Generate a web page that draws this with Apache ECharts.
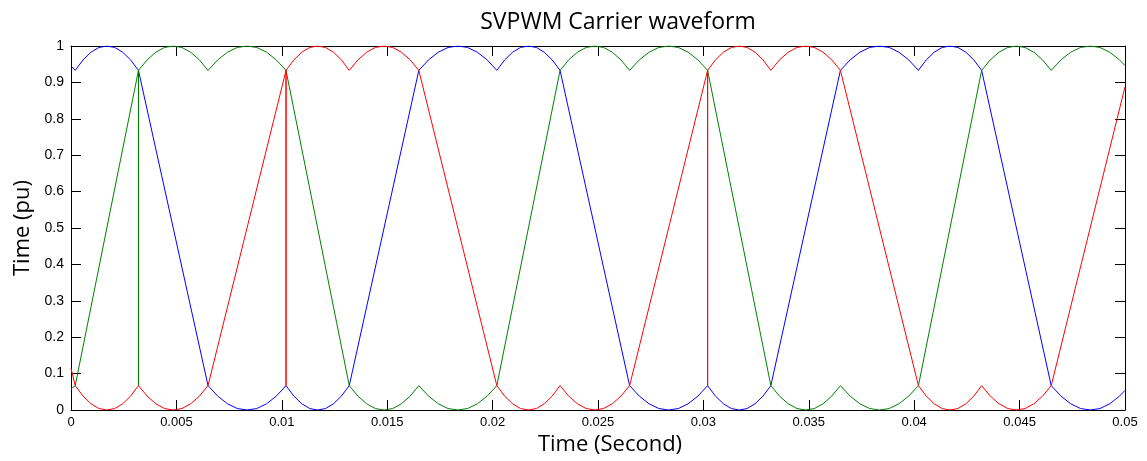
<!DOCTYPE html>
<html>
<head>
<meta charset="utf-8">
<script src="https://cdn.jsdelivr.net/npm/echarts@6/dist/echarts.min.js"></script>
<style>html,body{margin:0;padding:0;background:#fff}#c{width:1147px;height:461px}</style>
</head>
<body>
<div id="c"></div>
<script>
const titleText = 'SVPWM Carrier waveform';
const xName = 'Time (Second)';
const yName = 'Time (pu)';
const xTicks = [0, 0.005, 0.01, 0.015, 0.02, 0.025, 0.03, 0.035, 0.04, 0.045, 0.05];
const yTicks = [0, 0.1, 0.2, 0.3, 0.4, 0.5, 0.6, 0.7, 0.8, 0.9, 1];

const blue = [
[0,0.945],[0.0002,0.933],
[0.000575,0.962],[0.00095,0.983],[0.001325,0.996],[0.0017,1],[0.002075,0.996],[0.00245,0.983],[0.002825,0.962],[0.0032,0.933],
[0.0065,0.067],
[0.0069625,0.038],[0.007425,0.017],[0.0078875,0.004],[0.00835,0],[0.0088125,0.004],[0.009275,0.017],[0.0097375,0.038],[0.0102,0.067],
[0.010575,0.038],[0.01095,0.017],[0.011325,0.004],[0.0117,0],[0.012075,0.004],[0.01245,0.017],[0.012825,0.038],[0.0132,0.067],
[0.0165,0.933],
[0.0169625,0.962],[0.017425,0.983],[0.0178875,0.996],[0.01835,1],[0.0188125,0.996],[0.019275,0.983],[0.0197375,0.962],[0.0202,0.933],
[0.020575,0.962],[0.02095,0.983],[0.021325,0.996],[0.0217,1],[0.022075,0.996],[0.02245,0.983],[0.022825,0.962],[0.0232,0.933],
[0.0265,0.067],
[0.0269625,0.038],[0.027425,0.017],[0.0278875,0.004],[0.02835,0],[0.0288125,0.004],[0.029275,0.017],[0.0297375,0.038],[0.0302,0.067],
[0.030575,0.038],[0.03095,0.017],[0.031325,0.004],[0.0317,0],[0.032075,0.004],[0.03245,0.017],[0.032825,0.038],[0.0332,0.067],
[0.0365,0.933],
[0.0369625,0.962],[0.037425,0.983],[0.0378875,0.996],[0.03835,1],[0.0388125,0.996],[0.039275,0.983],[0.0397375,0.962],[0.0402,0.933],
[0.040575,0.962],[0.04095,0.983],[0.041325,0.996],[0.0417,1],[0.042075,0.996],[0.04245,0.983],[0.042825,0.962],[0.0432,0.933],
[0.0465,0.067],
[0.0469625,0.038],[0.047425,0.017],[0.0478875,0.004],[0.04835,0],[0.0488125,0.004],[0.049275,0.017],[0.0497375,0.038],[0.05,0.054]
];

const red = [
[0,0.115],[0.0002,0.067],
[0.000575,0.038],[0.00095,0.017],[0.001325,0.004],[0.0017,0],[0.002075,0.004],[0.00245,0.017],[0.002825,0.038],[0.0032,0.067],
[0.0036125,0.038],[0.004025,0.017],[0.0044375,0.004],[0.00485,0],[0.0052625,0.004],[0.005675,0.017],[0.0060875,0.038],[0.0065,0.067],
[0.0102,0.933],[0.0102,0.067],[0.0102,0.933],
[0.010575,0.962],[0.01095,0.983],[0.011325,0.996],[0.0117,1],[0.012075,0.996],[0.01245,0.983],[0.012825,0.962],[0.0132,0.933],
[0.0136125,0.962],[0.014025,0.983],[0.0144375,0.996],[0.01485,1],[0.0152625,0.996],[0.015675,0.983],[0.0160875,0.962],[0.0165,0.933],
[0.0202,0.067],
[0.020575,0.038],[0.02095,0.017],[0.021325,0.004],[0.0217,0],[0.022075,0.004],[0.02245,0.017],[0.022825,0.038],[0.0232,0.067],
[0.0236125,0.038],[0.024025,0.017],[0.0244375,0.004],[0.02485,0],[0.0252625,0.004],[0.025675,0.017],[0.0260875,0.038],[0.0265,0.067],
[0.0302,0.933],[0.0302,0.067],[0.0302,0.933],
[0.030575,0.962],[0.03095,0.983],[0.031325,0.996],[0.0317,1],[0.032075,0.996],[0.03245,0.983],[0.032825,0.962],[0.0332,0.933],
[0.0336125,0.962],[0.034025,0.983],[0.0344375,0.996],[0.03485,1],[0.0352625,0.996],[0.035675,0.983],[0.0360875,0.962],[0.0365,0.933],
[0.0402,0.067],
[0.040575,0.038],[0.04095,0.017],[0.041325,0.004],[0.0417,0],[0.042075,0.004],[0.04245,0.017],[0.042825,0.038],[0.0432,0.067],
[0.0436125,0.038],[0.044025,0.017],[0.0444375,0.004],[0.04485,0],[0.0452625,0.004],[0.045675,0.017],[0.0460875,0.038],[0.0465,0.067],
[0.05,0.888]
];

const green = [
[0,0.058],[0.0002,0.067],
[0.0032,0.933],[0.0032,0.067],[0.0032,0.933],
[0.0036125,0.962],[0.004025,0.983],[0.0044375,0.996],[0.00485,1],[0.0052625,0.996],[0.005675,0.983],[0.0060875,0.962],[0.0065,0.933],
[0.0069625,0.962],[0.007425,0.983],[0.0078875,0.996],[0.00835,1],[0.0088125,0.996],[0.009275,0.983],[0.0097375,0.962],[0.0102,0.933],
[0.0132,0.067],
[0.0136125,0.038],[0.014025,0.017],[0.0144375,0.004],[0.01485,0],[0.0152625,0.004],[0.015675,0.017],[0.0160875,0.038],[0.0165,0.067],
[0.0169625,0.038],[0.017425,0.017],[0.0178875,0.004],[0.01835,0],[0.0188125,0.004],[0.019275,0.017],[0.0197375,0.038],[0.0202,0.067],
[0.0232,0.933],
[0.0236125,0.962],[0.024025,0.983],[0.0244375,0.996],[0.02485,1],[0.0252625,0.996],[0.025675,0.983],[0.0260875,0.962],[0.0265,0.933],
[0.0269625,0.962],[0.027425,0.983],[0.0278875,0.996],[0.02835,1],[0.0288125,0.996],[0.029275,0.983],[0.0297375,0.962],[0.0302,0.933],
[0.0332,0.067],
[0.0336125,0.038],[0.034025,0.017],[0.0344375,0.004],[0.03485,0],[0.0352625,0.004],[0.035675,0.017],[0.0360875,0.038],[0.0365,0.067],
[0.0369625,0.038],[0.037425,0.017],[0.0378875,0.004],[0.03835,0],[0.0388125,0.004],[0.039275,0.017],[0.0397375,0.038],[0.0402,0.067],
[0.0432,0.933],
[0.0436125,0.962],[0.044025,0.983],[0.0444375,0.996],[0.04485,1],[0.0452625,0.996],[0.045675,0.983],[0.0460875,0.962],[0.0465,0.933],
[0.0469625,0.962],[0.047425,0.983],[0.0478875,0.996],[0.04835,1],[0.0488125,0.996],[0.049275,0.983],[0.0497375,0.962],[0.05,0.946]
];

const chart = echarts.init(document.getElementById('c'), null, {renderer: 'canvas'});
const axisLineStyle = {color: '#000', width: 1};
const fmtX = v => { const s = xTicks.find(t => Math.abs(t - v) < 1e-9); return s === undefined ? '' : String(s); };
const fmtY = v => { const s = yTicks.find(t => Math.abs(t - v) < 1e-9); return s === undefined ? '' : String(s); };
const mkLine = (name, data, color) => ({
  name, type: 'line', data, showSymbol: false, symbol: 'none', animation: false,
  lineStyle: {color, width: 1}, itemStyle: {color}, clip: true
});
chart.setOption({
  animation: false,
  backgroundColor: '#fff',
  title: {
    text: titleText, left: 613, top: 6, textAlign: 'center',
    textStyle: {fontFamily: 'Open Sans', fontWeight: 'normal', fontSize: 23, color: '#000'}
  },
  grid: {left: 71, right: 22, top: 46, bottom: 51, containLabel: false},
  xAxis: [{
    type: 'value', min: 0, max: 0.05, interval: 0.005, position: 'bottom',
    name: xName, nameLocation: 'middle', nameGap: 24,
    nameTextStyle: {fontFamily: 'Open Sans', fontSize: 22, color: '#000', padding: [0, 0, 0, 24]},
    axisLine: {show: true, onZero: false, lineStyle: axisLineStyle},
    axisTick: {show: true, inside: true, length: 10, lineStyle: axisLineStyle},
    axisLabel: {formatter: fmtX, color: '#000', fontFamily: 'Liberation Sans', fontSize: 13, margin: 6},
    splitLine: {show: false}
  }, {
    type: 'value', min: 0, max: 0.05, interval: 0.005, position: 'top',
    axisLine: {show: true, onZero: false, lineStyle: axisLineStyle},
    axisTick: {show: true, inside: true, length: 10, lineStyle: axisLineStyle},
    axisLabel: {show: false}, splitLine: {show: false}
  }],
  yAxis: [{
    type: 'value', min: 0, max: 1, interval: 0.1, position: 'left',
    name: yName, nameLocation: 'middle', nameGap: 34, nameRotate: 90,
    nameTextStyle: {fontFamily: 'Open Sans', fontSize: 22, color: '#000'},
    axisLine: {show: true, onZero: false, lineStyle: axisLineStyle},
    axisTick: {show: true, inside: true, length: 10, lineStyle: axisLineStyle},
    axisLabel: {formatter: fmtY, color: '#000', fontFamily: 'Liberation Sans', fontSize: 14, margin: 7},
    splitLine: {show: false}
  }, {
    type: 'value', min: 0, max: 1, interval: 0.1, position: 'right',
    axisLine: {show: true, onZero: false, lineStyle: axisLineStyle},
    axisTick: {show: true, inside: true, length: 10, lineStyle: axisLineStyle},
    axisLabel: {show: false}, splitLine: {show: false}
  }],
  series: [
    mkLine('Phase A', blue, '#0000ff'),
    mkLine('Phase B', green, '#008000'),
    mkLine('Phase C', red, '#ff0000')
  ]
});
</script>
</body>
</html>
